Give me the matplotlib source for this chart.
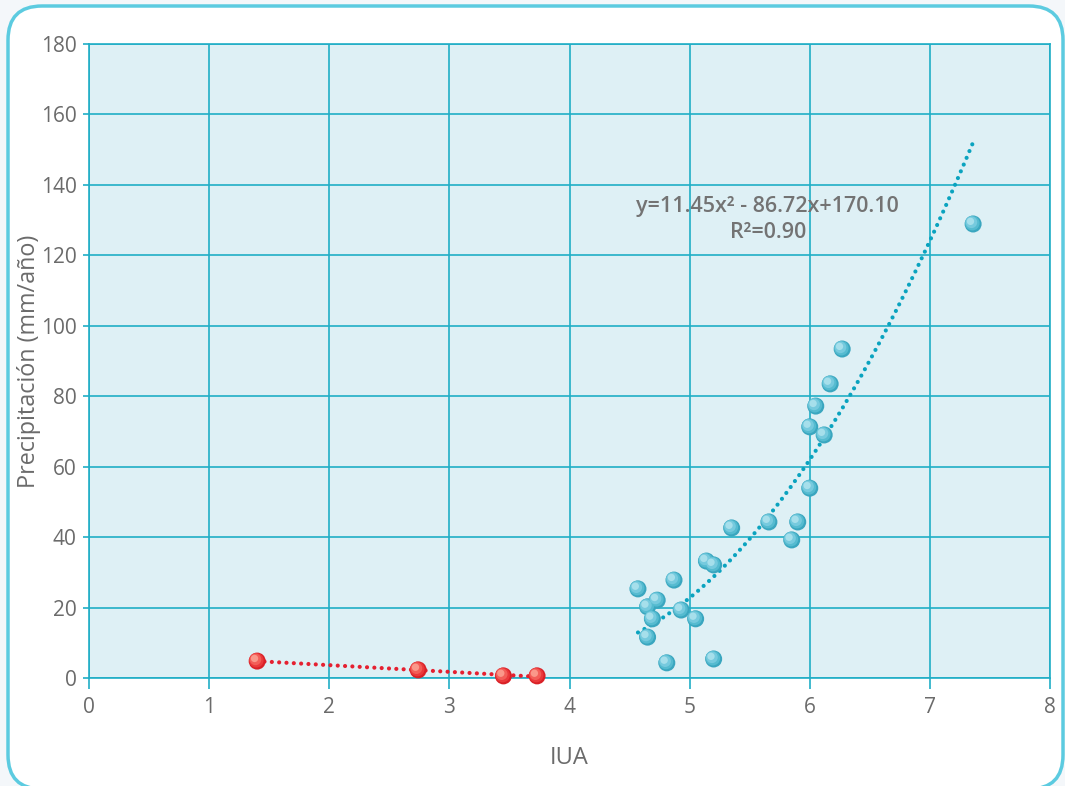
import numpy as np
import matplotlib.pyplot as plt
from matplotlib.patches import FancyBboxPatch
from matplotlib.transforms import offset_copy

plt.rcParams['font.family'] = ['Open Sans', 'DejaVu Sans']

# Data
iua_blue = [4.57, 4.65, 4.73, 4.69, 4.65, 4.81, 4.87, 4.93, 5.05, 5.14, 5.20, 5.20,
            5.35, 5.66, 5.85, 5.90, 6.00, 6.00, 6.05, 6.12, 6.17, 6.27, 7.36]
prec_blue = [25.3, 20.2, 22.1, 16.8, 11.6, 4.3, 27.8, 19.3, 16.8, 33.2, 32.1, 5.4,
             42.6, 44.3, 39.2, 44.3, 53.9, 71.3, 77.2, 69.0, 83.5, 93.4, 128.9]
iua_red = [1.40, 2.74, 3.45, 3.73]
prec_red = [4.8, 2.3, 0.6, 0.6]
poly_coef = [11.45, -86.72, 170.10]

BLUE_SHADES = ['#3aa6bf', '#55bbd0', '#76cade', '#a6dfeb']
RED_SHADES = ['#d92127', '#ea393b', '#f35e58', '#fa988a']
GRID = '#20aec6'
FRAME = '#5ccbe0'
TXT = '#6b6b6b'


def balls(ax, fig, x, y, shades):
    # fake a shaded sphere with a few stacked circles shifted up-left
    sizes = [150, 110, 70, 28]
    shifts = [0, 0.6, 1.2, 1.9]
    for col, s, d in zip(shades, sizes, shifts):
        tr = offset_copy(ax.transData, fig=fig, x=-d, y=d, units='points')
        ax.scatter(x, y, s=s, color=col, edgecolors='none', zorder=4,
                   transform=tr, clip_on=False)


def main():
    fig = plt.figure(figsize=(10.65, 7.86), dpi=100)
    fig.patch.set_facecolor('#f4f7fa')
    frame = FancyBboxPatch((8 / 1065, -3 / 786), 1055 / 1065, 783 / 786,
                           boxstyle='round,pad=0,rounding_size=%f' % (34 / 1065),
                           mutation_aspect=1065 / 786,
                           transform=fig.transFigure, facecolor='white',
                           edgecolor=FRAME, linewidth=2.5, zorder=-1)
    fig.patches.append(frame)

    ax = fig.add_axes([89 / 1065, 1 - 678 / 786, 961 / 1065, 634 / 786])
    ax.set_zorder(2)
    ax.set_facecolor('#def0f5')
    ax.set_xlim(0, 8)
    ax.set_ylim(0, 180)
    ax.set_xticks(range(0, 9))
    ax.set_yticks(range(0, 181, 20))
    ax.grid(True, color=GRID, linewidth=1.2)
    ax.set_axisbelow(True)
    for sp in ax.spines.values():
        sp.set_color(GRID)
        sp.set_linewidth(1.2)
    ax.tick_params(labelsize=15, labelcolor=TXT, color=GRID, width=1.2)
    ax.tick_params(axis='x', length=8, pad=6)
    ax.tick_params(axis='y', length=4, pad=5)

    # quadratic trend for blue points
    xs = np.linspace(min(iua_blue), max(iua_blue), 300)
    ax.plot(xs, np.polyval(poly_coef, xs), linestyle=(0, (0.01, 1.75)),
            color='#0aa3bf', linewidth=3, dash_capstyle='round', zorder=3)

    # linear trend for red points
    lin = np.polyfit(iua_red, prec_red, 1)
    xr = np.linspace(min(iua_red), max(iua_red), 100)
    ax.plot(xr, np.polyval(lin, xr), linestyle=(0, (0.01, 1.75)),
            color='#e52030', linewidth=3, dash_capstyle='round', zorder=3)

    balls(ax, fig, iua_blue, prec_blue, BLUE_SHADES)
    balls(ax, fig, iua_red, prec_red, RED_SHADES)

    ax.text(5.65, 134.0, 'y=11.45x² - 86.72x+170.10', ha='center', va='center',
            fontsize=15.5, fontweight='semibold', color='#737373')
    ax.text(5.65, 126.5, 'R²=0.90', ha='center', va='center',
            fontsize=15.5, fontweight='semibold', color='#737373')

    ax.set_xlabel('IUA', fontsize=17, color=TXT, labelpad=20)
    ax.set_ylabel('Precipitación (mm/año)', fontsize=16.8, color=TXT, labelpad=0)

    fig.savefig('out.png', dpi=100, facecolor=fig.get_facecolor())


if __name__ == "__main__":
    main()
